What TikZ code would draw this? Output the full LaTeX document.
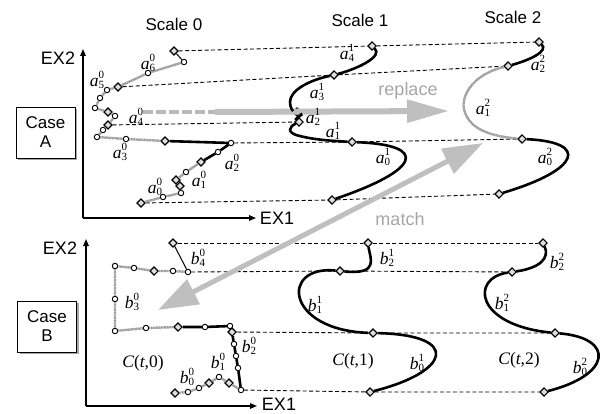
\documentclass[tikz,border=0pt]{standalone}
\usepackage{fontspec}
\setmainfont{Liberation Sans}
\newfontfamily\tms{Liberation Serif}
\usetikzlibrary{arrows.meta,shapes.geometric,shadows}
\newcommand\lb[3]{{\tms\itshape #1}\rlap{\raisebox{8pt}{\tms\fontsize{11}{11}\selectfont #3}}\raisebox{-2.5pt}{\tms\fontsize{11}{11}\selectfont #2}}
\newcommand\ct[1]{{\tms\itshape C}{\tms(}{\tms\itshape t}{\tms,#1)}}
\begin{document}
\begin{tikzpicture}[x=1pt,y=-1pt,
  circ/.style={circle,draw,fill=white,inner sep=0,minimum size=5.5pt,line width=0.9pt},
  dia/.style={diamond,draw,fill=gray!25,inner sep=0,minimum size=8.5pt,line width=1.1pt},
  dsh/.style={dash pattern=on 4pt off 2.5pt,line width=0.9pt},
  gry/.style={gray!75,line width=2.4pt,dash pattern=on 1.2pt off 0.4pt},
  gdsh/.style={gray!55,line width=3.5pt,dash pattern=on 10pt off 3pt},
  thk/.style={line width=2.6pt},
  thn/.style={line width=1pt},
  bigarr/.style={gray!50,line width=6pt},
  lab/.style={font=\fontsize{17.5}{19}\selectfont,inner sep=0},
  ttl/.style={font=\fontsize{17}{20}\selectfont},
  axl/.style={font=\fontsize{18}{20}\selectfont},
  gtxt/.style={gray!70,font=\fontsize{18}{20}\selectfont},
  casebox/.style={draw,line width=0.9pt,fill=white,minimum width=59pt,minimum height=51pt,align=center,
    font=\fontsize{17}{19}\selectfont,inner sep=0,
    drop shadow={shadow xshift=2pt,shadow yshift=-2pt,fill=gray!70,opacity=1}},
  axis/.style={line width=1.4pt,-{Triangle[length=7pt,width=5.5pt]}}]
\useasboundingbox (0,0) rectangle (601,414);

% titles
\node[ttl] (sc0) at (174,24) {Scale 0};
\node[ttl] (sc1) at (360,20) {Scale 1};
\node[ttl] (sc2) at (513,17) {Scale 2};

% case boxes
\node[casebox] (caseA) at (45.5,132.5) {Case\\A};
\node[casebox] (caseB) at (47,326.5) {Case\\B};

% axes
\coordinate (oA) at (83,218); \coordinate (yA) at (83,49); \coordinate (xA) at (256,218);
\coordinate (oB) at (86,406); \coordinate (yB) at (86,239); \coordinate (xB) at (257,406);
\draw[axis] (oA) -- (yA);
\draw[axis] (oA) -- (xA);
\draw[axis] (oB) -- (yB);
\draw[axis] (oB) -- (xB);
\node[axl] (ex2a) at (58,58) {EX2};
\node[axl] (ex1a) at (277,218) {EX1};
\node[axl] (ex2b) at (60,248) {EX2};
\node[axl] (ex1b) at (279,404) {EX1};

% ---------- top: scale 0 markers
\node[dia]  (A1)  at (174,51) {};
\node[circ] (A2)  at (184,62) {};
\node[circ] (A3)  at (148,73) {};
\node[dia]  (A4)  at (118,87) {};
\node[circ] (A5)  at (107,90) {};
\node[circ] (A6)  at (100,98) {};
\node[circ] (A7)  at (95,108) {};
\node[dia]  (A8)  at (108,112) {};
\node[circ] (A9)  at (115,116) {};
\node[dia]  (A10) at (108,125) {};
\node[circ] (A11) at (103,130) {};
\node[circ] (A12) at (97,137) {};
\node[circ] (A13) at (126,139) {};
\node[dia]  (A14) at (165,141) {};
\node[circ] (A15) at (231,143) {};
\node[circ] (A16) at (218,152) {};
\node[dia]  (A17) at (201,162) {};
\node[circ] (A18) at (186,172) {};
\node[dia]  (A19) at (176,180) {};
\node[dia]  (A20) at (180,186) {};
\node[circ] (A21) at (181,193) {};
\node[circ] (A22) at (163,197) {};
\node[dia]  (A23) at (141,203) {};

% top: scale 1 and 2 markers
\node[dia] (S1a) at (372,46) {};
\node[dia] (S1b) at (334,75) {};
\node[dia] (S1c) at (297,112) {};
\node[dia] (S1d) at (299,122) {};
\node[dia] (S1e) at (352,142) {};
\node[dia] (S1f) at (332,200) {};
\node[dia] (S2a) at (539,42) {};
\node[dia] (S2b) at (508,66) {};
\node[dia] (S2c) at (522,139) {};
\node[dia] (S2d) at (499,194) {};

% ---------- bottom: scale 0 markers
\node[dia]  (B1)  at (173,243) {};
\node[circ] (B2)  at (188,272) {};
\node[circ] (B3)  at (173,271) {};
\node[dia]  (B4)  at (154,271) {};
\node[circ] (B5)  at (134,268) {};
\node[circ] (B6)  at (115,266) {};
\node[circ] (B7)  at (115,299) {};
\node[circ] (B8)  at (115,331) {};
\node[circ] (B9)  at (146,328) {};
\node[dia]  (B10) at (178,327) {};
\node[circ] (B11) at (205,327) {};
\node[circ] (B12) at (230,326) {};
\node[dia]  (B13) at (232,332) {};
\node[circ] (B14) at (234,344) {};
\node[circ] (B15) at (236,356) {};
\node[circ] (B16) at (238,368) {};
\node[circ] (B17) at (241,390) {};
\node[dia]  (B18) at (229,383) {};
\node[circ] (B19) at (219,377) {};
\node[dia]  (B20) at (209,383) {};
\node[circ] (B21) at (199,388) {};
\node[circ] (B22) at (188,392) {};
\node[dia]  (B23) at (175,393) {};

% bottom: scale 1 and 2 markers
\node[dia] (T1a) at (368,243) {};
\node[dia] (T1b) at (340,271) {};
\node[dia] (T1c) at (373,333) {};
\node[dia] (T1d) at (370,392) {};
\node[dia] (T2a) at (543,243) {};
\node[dia] (T2b) at (512,272) {};
\node[dia] (T2c) at (555,333) {};
\node[dia] (T2d) at (544,392) {};

% ---------- dashed correspondence lines
\draw[dsh] (A1) -- (S1a) -- (S2a);
\draw[dsh] (A4) -- (S1b) -- (S2b);
\draw[dsh] (A10) -- (S1d);
\draw[dsh] (A15) -- (S1e) -- (S2c);
\draw[dsh] (A23) -- (S1f) -- (S2d);
\draw[dsh] (B1) -- (T1a) -- (T2a);
\draw[dsh] (B2) -- (T1b) -- (T2b);
\draw[dsh] (B13) -- (T1c) -- (T2c);
\draw[dsh] (B17) -- (T1d) -- (T2d);

% ---------- big gray arrows
\coordinate (R0) at (143,112);
\coordinate (R1) at (215,112);
\coordinate (R2) at (449,111);
\draw[gdsh] (R0) -- (R1);
\draw[bigarr,-{Triangle[length=42pt,width=22pt]}] (R1) -- (R2);
\node[gtxt] (rep) at (408,91) {replace};
\coordinate (M0) at (158,310);
\coordinate (M1) at (483,143);
\draw[bigarr,line width=5pt,{Triangle[length=40pt,width=27pt]}-{Triangle[length=40pt,width=27pt]}] (M0) -- (M1);
\node[gtxt] (mat) at (400,219) {match};

% ---------- scale 0 top polyline
\draw[thn] (A1) -- (A2);
\draw[gry] (A2) -- (A3) -- (A4) -- (A5) -- (A6) -- (A7) -- (A8) -- (A9) -- (A10) -- (A11) -- (A12) -- (A13) -- (A14);
\draw[thk] (A14) -- (A15) -- (A16) -- (A17);
\draw[gry] (A17) -- (A18) -- (A19) -- (A20) -- (A21) -- (A22) -- (A23);

% scale 1 top curve
\draw[thk] (S1a) .. controls (383,56) and (360,68) .. (S1b)
  .. controls (310,80) and (290,90) .. (290,102)
  .. controls (290,108) and (293,111) .. (S1c);
\draw[thk] (S1c) .. controls (305,115) and (293,119) .. (S1d);
\draw[thk] (S1d) .. controls (290,126) and (285,133) .. (300,136)
  .. controls (315,140) and (335,141) .. (S1e);
\draw[thk] (S1e) .. controls (430,145) and (420,170) .. (S1f);

% scale 2 top curve
\draw[thk] (S2a) .. controls (549,51) and (530,60) .. (S2b);
\draw[gry] (S2b) .. controls (470,75) and (458,100) .. (466,115)
  .. controls (474,133) and (500,137) .. (S2c);
\draw[thk] (S2c) .. controls (590,142) and (580,170) .. (S2d);

% ---------- scale 0 bottom polyline
\draw[thn] (B1) -- (B2);
\draw[gry] (B2) -- (B3) -- (B4) -- (B5) -- (B6) -- (B7) -- (B8) -- (B9) -- (B10);
\draw[thk] (B10) -- (B11) -- (B12) -- (B13) -- (B14) -- (B15) -- (B16) -- (B17);
\draw[gry] (B17) -- (B18) -- (B19) -- (B20) -- (B21) -- (B22) -- (B23);

% scale 1 bottom curve
\draw[thk] (T1a) .. controls (370,258) and (380,275) .. (T1b);
\draw[thk] (T1b) .. controls (280,265) and (285,330) .. (T1c);
\draw[thk] (T1c) .. controls (462,335) and (450,372) .. (T1d);

% scale 2 bottom curve
\draw[thk] (T2a) .. controls (550,258) and (540,268) .. (T2b);
\draw[thk] (T2b) .. controls (470,278) and (475,325) .. (T2c);
\draw[thk] (T2c) .. controls (615,338) and (612,375) .. (T2d);

% ---------- labels
\node[lab] (la60) at (148,63) {\lb{a}{6}{0}};
\node[lab] (la50) at (97,80) {\lb{a}{5}{0}};
\node[lab] (la40) at (136,117) {\lb{a}{4}{0}};
\node[lab] (la30) at (120,152) {\lb{a}{3}{0}};
\node[lab] (la20) at (232,163) {\lb{a}{2}{0}};
\node[lab] (la10) at (199,180) {\lb{a}{1}{0}};
\node[lab] (la00) at (155,187) {\lb{a}{0}{0}};
\node[lab] (la41) at (347,53) {\lb{a}{4}{1}};
\node[lab] (la31) at (317,92) {\lb{a}{3}{1}};
\node[lab] (la21) at (313,117) {\lb{a}{2}{1}};
\node[lab] (la11) at (333,131) {\lb{a}{1}{1}};
\node[lab] (la01) at (383,157) {\lb{a}{0}{1}};
\node[lab] (la22) at (538,64) {\lb{a}{2}{2}};
\node[lab] (la12) at (483,108) {\lb{a}{1}{2}};
\node[lab] (la02) at (545,157) {\lb{a}{0}{2}};

\node[lab] (lb40) at (198,258) {\lb{b}{4}{0}};
\node[lab] (lb30) at (132,302) {\lb{b}{3}{0}};
\node[lab] (lb20) at (249,346) {\lb{b}{2}{0}};
\node[lab] (lb10) at (218,362) {\lb{b}{1}{0}};
\node[lab] (lb00) at (187,377) {\lb{b}{0}{0}};
\node[lab] (lb21) at (387,258) {\lb{b}{2}{1}};
\node[lab] (lb11) at (315,305) {\lb{b}{1}{1}};
\node[lab] (lb01) at (417,363) {\lb{b}{0}{1}};
\node[lab] (lb22) at (557,262) {\lb{b}{2}{2}};
\node[lab] (lb12) at (502,303) {\lb{b}{1}{2}};
\node[lab] (lb02) at (580,367) {\lb{b}{0}{2}};
\node[lab] (c0) at (143,363) {\ct{0}};
\node[lab] (c1) at (353,361) {\ct{1}};
\node[lab] (c2) at (519,360) {\ct{2}};
\end{tikzpicture}
\end{document}
